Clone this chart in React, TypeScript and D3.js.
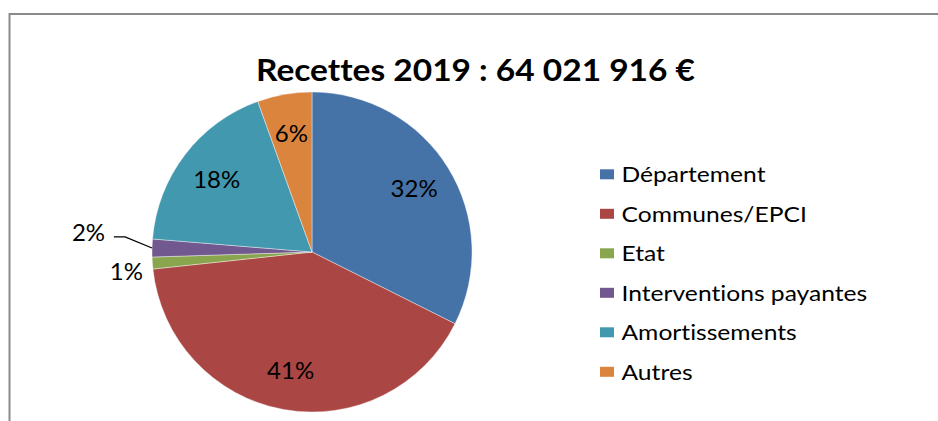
import React from "react";
import * as d3 from "d3";

const categories = ["Département", "Communes/EPCI", "Etat", "Interventions payantes", "Amortissements", "Autres"];
const values = [32.4, 40.9, 1.2, 1.8, 18.2, 5.5];
const colors = ["#4572A7", "#AA4643", "#89A54E", "#71588F", "#4198AF", "#DB843D"];
const title = "Recettes 2019 : 64 021 916 €";

const W = 938, H = 421;
const cx = 312, cy = 252, R = 160;
const FONT = "Lato, 'Open Sans', sans-serif";

export default function App() {
  const total = d3.sum(values);
  const pie = d3.pie<number>().sort(null).value((d) => d)(values);
  const arc = d3.arc<d3.PieArcDatum<number>>().innerRadius(0).outerRadius(R);
  const labelArc = d3.arc<d3.PieArcDatum<number>>().innerRadius(120).outerRadius(120);
  const pct = (v: number) => `${Math.round((v / total) * 100)}%`;

  const polar = (a: number, r: number) => [cx + r * Math.sin(a), cy - r * Math.cos(a)];

  const legendY = d3.scaleLinear().domain([0, categories.length - 1]).range([182.3, 379.8]);

  return (
    <svg width={W} height={H} style={{ position: "absolute", left: 0, top: 0, background: "#fff", fontVariantLigatures: "none" }}>
      <rect x={0} y={0} width={W} height={H} fill="#fff" />
      <path d={`M9.5,${H} L9.5,14 L${W},14`} fill="none" stroke="#8a8a8a" strokeWidth={2} />
      <text x={475.5} y={80.7} textAnchor="middle" fontFamily={FONT} fontWeight="bold" fontSize={31}
        textLength={439} lengthAdjust="spacingAndGlyphs" fill="#000">{title}</text>
      <g transform={`translate(${cx},${cy})`}>
        {pie.map((p, i) => (
          <path key={i} d={arc(p) || ""} fill={colors[i]} stroke="#ffffff" strokeOpacity={0.5} strokeWidth={0.8} />
        ))}
      </g>
      {pie.map((p, i) => {
        const share = p.value / total;
        if (share < 0.03) return null;
        const [lx, ly] = labelArc.centroid(p);
        return (
          <text key={i} x={cx + lx} y={cy + ly + 8.5} textAnchor="middle" fontFamily={FONT} fontSize={24} fill="#000">
            {pct(p.value)}
          </text>
        );
      })}
      {(() => {
        const pe = pie[2];
        const ae = (pe.startAngle + pe.endAngle) / 2;
        const [ex, ey] = polar(ae, 186);
        const pi = pie[3];
        const ai = (pi.startAngle + pi.endAngle) / 2;
        const [sx, sy] = polar(ai, R);
        const [bx, by] = polar(ai + 0.056, 187.5);
        const tx = bx - 11.3;
        return (
          <g>
            <text x={ex} y={ey + 7 + 8.5} textAnchor="middle" fontFamily={FONT} fontSize={24} fill="#000">{pct(pe.value)}</text>
            <path d={`M${sx},${sy} L${bx},${by} L${tx},${by}`} fill="none" stroke="#000" strokeWidth={1.3} />
            <text x={tx - 8.7} y={by + 4.5} textAnchor="end" fontFamily={FONT} fontSize={24} fill="#000">{pct(pi.value)}</text>
          </g>
        );
      })()}
      {categories.map((c, i) => (
        <g key={c}>
          <rect x={600} y={legendY(i) - 13} width={14} height={10} fill={colors[i]} />
          <g transform={`translate(621.5,${legendY(i)}) scale(1.12,1)`}>
            <text x={0} y={0} fontFamily={FONT} fontSize={22} fill="#000">{c}</text>
          </g>
        </g>
      ))}
    </svg>
  );
}
